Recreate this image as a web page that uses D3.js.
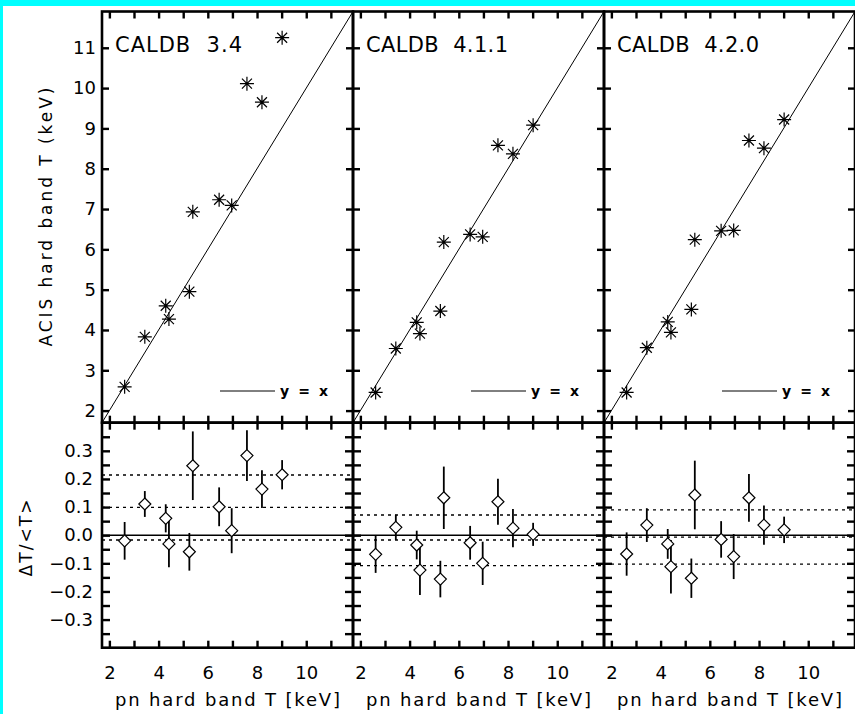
<!DOCTYPE html>
<html>
<head>
<meta charset="utf-8">
<script src="https://cdn.jsdelivr.net/npm/d3@7"></script>
<style>
  body { margin: 0; background: #fff; }
  svg { display: block; }
  text { font-family: "DejaVu Sans", sans-serif; fill: #000; }
</style>
</head>
<body>
<div id="chart-area"></div>
<script>
// pn hard band temperatures (keV), shared by all panels
var pnT = [2.62, 3.44, 4.29, 4.42, 5.25, 5.39, 6.46, 6.97, 7.59, 8.20, 9.02];

var caldbNames = ["CALDB  3.4", "CALDB  4.1.1", "CALDB  4.2.0"];

// ACIS hard band T (keV) per calibration
var acis34 = [2.59, 3.83, 4.60, 4.27, 4.95, 6.93, 7.23, 7.09, 10.11, 9.65, 11.25];
var acis411 = [2.45, 3.54, 4.19, 3.91, 4.47, 6.18, 6.37, 6.31, 8.58, 8.37, 9.08];
var acis420 = [2.45, 3.56, 4.20, 3.94, 4.51, 6.24, 6.46, 6.47, 8.70, 8.51, 9.22];

// dT/<T> and its error
var dev34 = [-0.020, 0.111, 0.060, -0.031, -0.059, 0.247, 0.101, 0.016, 0.283, 0.164, 0.215];
var err34 = [0.067, 0.046, 0.050, 0.083, 0.067, 0.122, 0.069, 0.080, 0.090, 0.067, 0.052];
var dev411 = [-0.068, 0.028, -0.035, -0.124, -0.156, 0.133, -0.027, -0.100, 0.119, 0.025, 0.003];
var err411 = [0.066, 0.045, 0.051, 0.089, 0.065, 0.111, 0.060, 0.077, 0.082, 0.068, 0.041];
var dev420 = [-0.067, 0.036, -0.031, -0.112, -0.153, 0.143, -0.015, -0.076, 0.133, 0.036, 0.019];
var err420 = [0.077, 0.060, 0.053, 0.095, 0.070, 0.122, 0.065, 0.080, 0.085, 0.070, 0.047];

// mean and mean +/- sigma (dotted lines)
var lines34 = [0.214, 0.099, -0.017];
var lines411 = [0.072, -0.017, -0.108];
var lines420 = [0.090, -0.007, -0.103];

var tempRange = [1.7, 11.9];
var devRange = [-0.4, 0.4];
var tempTicks = [2, 3, 4, 5, 6, 7, 8, 9, 10, 11];
var xLabelTicks = [2, 4, 6, 8, 10];
var devLabelTicks = [0.3, 0.2, 0.1, 0.0, -0.1, -0.2, -0.3];
var devMinorTicks = [-0.35, -0.3, -0.25, -0.2, -0.15, -0.1, -0.05, 0, 0.05, 0.1, 0.15, 0.2, 0.25, 0.3, 0.35];

var panels = [
  {name: caldbNames[0], acis: acis34, dev: dev34, err: err34, lines: lines34},
  {name: caldbNames[1], acis: acis411, dev: dev411, err: err411, lines: lines411},
  {name: caldbNames[2], acis: acis420, dev: dev420, err: err420, lines: lines420}
];

var W = 855, H = 714;
var marginLeft = 102, marginTop = 11.5;
var panelW = 251, topH = 411.2, botH = 225;
var tick = 7;

var svg = d3.select("#chart-area").append("svg")
  .attr("width", W)
  .attr("height", H)

svg.append("rect").attr("width", W).attr("height", H).attr("fill", "#fff")
// cyan border strips
svg.append("rect").attr("x", 0).attr("y", 0).attr("width", W).attr("height", 6).attr("fill", "#00ffff")
svg.append("rect").attr("x", 0).attr("y", 0).attr("width", 3).attr("height", H).attr("fill", "#00ffff")

var x = d3.scaleLinear().domain(tempRange).range([0, panelW])
var yTop = d3.scaleLinear().domain(tempRange).range([topH, 0])
var yBot = d3.scaleLinear().domain(devRange).range([botH, 0])

function styleAxis(g) {
  g.select(".domain").remove()
  g.selectAll(".tick line").attr("stroke", "#000").attr("stroke-width", 2.4)
  g.selectAll(".tick text").attr("font-size", "18px").attr("font-family", "DejaVu Sans")
}

panels.forEach(function(p, i) {
  var px = marginLeft + i * panelW;

  // ---- upper panel ----
  var gt = svg.append("g").attr("transform", "translate(" + px + "," + marginTop + ")")

  gt.append("clipPath").attr("id", "clipTop" + i)
    .append("rect").attr("width", panelW).attr("height", topH)

  gt.append("line")
    .attr("clip-path", "url(#clipTop" + i + ")")
    .attr("x1", x(tempRange[0])).attr("y1", yTop(tempRange[0]))
    .attr("x2", x(tempRange[1])).attr("y2", yTop(tempRange[1]))
    .attr("stroke", "#000").attr("stroke-width", 1)

  var stars = gt.selectAll(".star").data(p.acis).enter().append("g")
    .attr("class", "star")
    .attr("transform", function(d, j) { return "translate(" + x(pnT[j]) + "," + yTop(d) + ")" })
  stars.append("path")
    .attr("d", "M-7,0H7M0,-7V7M-5,-5L5,5M-5,5L5,-5")
    .attr("stroke", "#000").attr("stroke-width", 1.2).attr("fill", "none")

  gt.append("g").call(d3.axisTop(x).tickValues(tempTicks).tickSize(-tick).tickFormat("")).call(styleAxis)
  gt.append("g").attr("transform", "translate(0," + topH + ")")
    .call(d3.axisBottom(x).tickValues(tempTicks).tickSize(-tick).tickFormat("")).call(styleAxis)
  gt.append("g")
    .call(d3.axisLeft(yTop).tickValues(tempTicks).tickSize(-tick).tickPadding(6)
      .tickFormat(i == 0 ? d3.format("d") : "")).call(styleAxis)
  gt.append("g").attr("transform", "translate(" + panelW + ",0)")
    .call(d3.axisRight(yTop).tickValues(tempTicks).tickSize(-tick).tickFormat("")).call(styleAxis)

  gt.append("text")
    .attr("x", 13).attr("y", 40)
    .attr("font-size", "21px")
    .attr("textLength", i == 0 ? 127 : 142)
    .attr("lengthAdjust", "spacing")
    .style("white-space", "pre")
    .text(p.name)

  // legend
  gt.append("line")
    .attr("x1", 118).attr("x2", 173).attr("y1", 379.5).attr("y2", 379.5)
    .attr("stroke", "#000").attr("stroke-width", 1)
  gt.append("text")
    .attr("x", 178).attr("y", 384.5)
    .attr("font-size", "14px").attr("font-weight", "bold")
    .attr("textLength", 48).attr("lengthAdjust", "spacing")
    .text("y = x")

  gt.append("rect").attr("width", panelW).attr("height", topH)
    .attr("fill", "none").attr("stroke", "#000").attr("stroke-width", 2.6)

  // ---- lower panel ----
  var gb = svg.append("g").attr("transform", "translate(" + px + "," + (marginTop + topH) + ")")

  gb.append("line")
    .attr("x1", 0).attr("x2", panelW).attr("y1", yBot(0)).attr("y2", yBot(0))
    .attr("stroke", "#000").attr("stroke-width", 1.5)

  gb.selectAll(".mline").data(p.lines).enter().append("line")
    .attr("class", "mline")
    .attr("x1", 0).attr("x2", panelW)
    .attr("y1", function(d) { return yBot(d) }).attr("y2", function(d) { return yBot(d) })
    .attr("stroke", "#000").attr("stroke-width", 1.4).attr("stroke-dasharray", "3,4")

  gb.selectAll(".ebar").data(p.dev).enter().append("line")
    .attr("class", "ebar")
    .attr("x1", function(d, j) { return x(pnT[j]) }).attr("x2", function(d, j) { return x(pnT[j]) })
    .attr("y1", function(d, j) { return yBot(d + p.err[j]) })
    .attr("y2", function(d, j) { return yBot(d - p.err[j]) })
    .attr("stroke", "#000").attr("stroke-width", 1.8)

  gb.selectAll(".dia").data(p.dev).enter().append("path")
    .attr("class", "dia")
    .attr("transform", function(d, j) { return "translate(" + x(pnT[j]) + "," + yBot(d) + ")" })
    .attr("d", "M0,-6L6,0L0,6L-6,0Z")
    .attr("fill", "#fff").attr("stroke", "#000").attr("stroke-width", 1.2)

  gb.append("g").call(d3.axisTop(x).tickValues(tempTicks).tickSize(-tick).tickFormat("")).call(styleAxis)
  gb.append("g").attr("transform", "translate(0," + botH + ")")
    .call(d3.axisBottom(x).tickValues(tempTicks).tickSize(-tick).tickFormat("")).call(styleAxis)
  gb.append("g").attr("transform", "translate(0," + botH + ")")
    .call(d3.axisBottom(x).tickValues(xLabelTicks).tickSize(0).tickPadding(19).tickFormat(d3.format("d")))
    .call(styleAxis)
  gb.append("g")
    .call(d3.axisLeft(yBot).tickValues(devMinorTicks).tickSize(-8).tickFormat("")).call(styleAxis)
  if (i == 0) {
    gb.append("g")
      .call(d3.axisLeft(yBot).tickValues(devLabelTicks).tickSize(0).tickPadding(9).tickFormat(d3.format(".1f")))
      .call(styleAxis)
  }
  gb.append("g").attr("transform", "translate(" + panelW + ",0)")
    .call(d3.axisRight(yBot).tickValues(devMinorTicks).tickSize(-8).tickFormat("")).call(styleAxis)

  gb.append("rect").attr("width", panelW).attr("height", botH)
    .attr("fill", "none").attr("stroke", "#000").attr("stroke-width", 2.6)

  // x title
  svg.append("text")
    .attr("x", px + panelW / 2).attr("y", 706)
    .attr("text-anchor", "middle")
    .attr("font-size", "18px")
    .attr("textLength", 225).attr("lengthAdjust", "spacing")
    .text("pn hard band T [keV]")
})

// y titles
svg.append("text")
  .attr("transform", "translate(52," + (marginTop + topH / 2) + ") rotate(-90)")
  .attr("text-anchor", "middle")
  .attr("font-size", "17px")
  .attr("textLength", 259).attr("lengthAdjust", "spacing")
  .text("ACIS hard band T (keV)")

svg.append("text")
  .attr("transform", "translate(32,538) rotate(-90)")
  .attr("text-anchor", "middle")
  .attr("font-size", "17px")
  .attr("textLength", 77).attr("lengthAdjust", "spacing")
  .text("ΔT/<T>")
</script>
</body>
</html>
